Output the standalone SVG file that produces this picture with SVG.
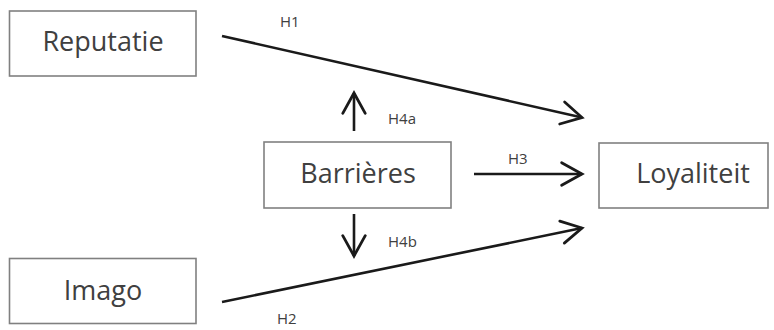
<svg xmlns="http://www.w3.org/2000/svg" width="774" height="330" viewBox="0 0 774 330">
<defs>
<style>
.box{fill:#fff;stroke:#808080;stroke-width:1.6}
.lbl{font-family:"Open Sans","Noto Sans",sans-serif;font-size:27px;fill:#404040;text-anchor:middle}
.hl{font-family:"Open Sans","Noto Sans",sans-serif;font-size:15px;fill:#404040}
.ln{stroke:#1a1a1a;stroke-width:2.6;fill:none;marker-end:url(#ah)}
</style>
<marker id="ah" markerUnits="userSpaceOnUse" markerWidth="30" markerHeight="30" refX="0" refY="0" viewBox="-22 -14 26 28" orient="auto" overflow="visible">
<path d="M-19,-10.5 L0,0 L-19,10.5" fill="none" stroke="#1a1a1a" stroke-width="2.6" stroke-linecap="round" stroke-linejoin="miter"/>
</marker>
</defs>
<rect width="774" height="330" fill="#fff"/>
<g id="connectors">
<line class="ln" x1="222" y1="36" x2="582" y2="117.5"/>
<line class="ln" x1="222" y1="302" x2="582" y2="228"/>
<line class="ln" x1="474" y1="174" x2="582" y2="174"/>
<line class="ln" x1="354" y1="131" x2="354" y2="93"/>
<line class="ln" x1="354" y1="214" x2="354" y2="256"/>
<text class="hl" x="280" y="27">H1</text>
<text class="hl" x="277" y="324">H2</text>
<text class="hl" x="508" y="164">H3</text>
<text class="hl" x="388" y="124">H4a</text>
<text class="hl" x="388" y="247">H4b</text>
</g>
<g id="reputatie">
<rect class="box" x="9.5" y="11" width="186.5" height="65"/>
<text class="lbl" x="103" y="51">Reputatie</text>
</g>
<g id="imago">
<rect class="box" x="9.5" y="258.5" width="186.5" height="65"/>
<text class="lbl" x="103" y="300">Imago</text>
</g>
<g id="barrieres">
<rect class="box" x="264" y="142" width="187" height="66"/>
<text class="lbl" x="358" y="183">Barrières</text>
</g>
<g id="loyaliteit">
<rect class="box" x="599" y="143" width="169" height="65"/>
<text class="lbl" x="693" y="183">Loyaliteit</text>
</g>
</svg>
